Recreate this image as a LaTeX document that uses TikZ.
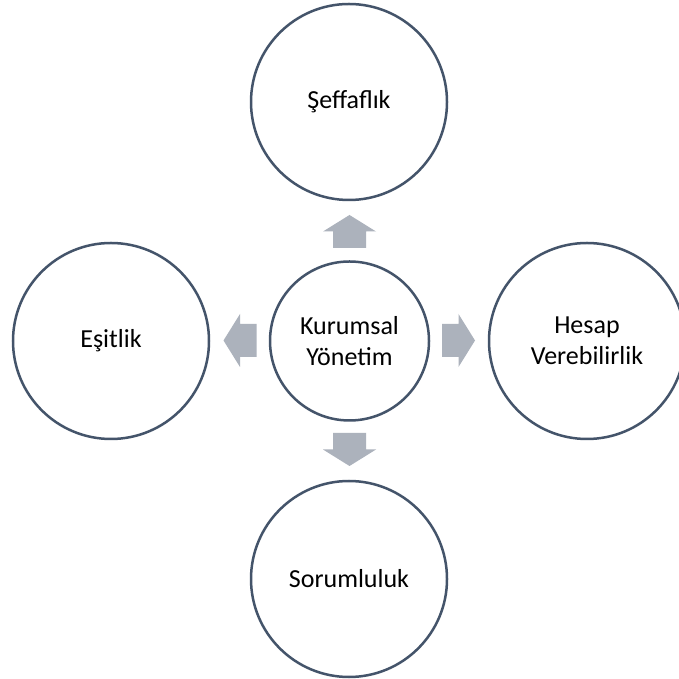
\documentclass[tikz,border=0pt]{standalone}
\usepackage{fontspec}
\setmainfont{Carlito}
\begin{document}
\begin{tikzpicture}[x=1pt,y=1pt,
  circ/.style={circle,draw=ringcol,line width=2.5pt,fill=white,inner sep=0pt,align=center,
    font=\fontsize{26}{31}\selectfont},
  blockarrow/.style={fill=arrowcol}]
\definecolor{ringcol}{HTML}{44546A}
\definecolor{arrowcol}{RGB}{172,178,188}
\useasboundingbox[fill=white] (0,0) rectangle (678,679);
\node[circ,minimum size=159pt] (c) at (349.5,338) {Kurumsal\\Yönetim};
\node[circ,minimum size=196pt] (t) at (349,577) {Şeffaflık};
\node[circ,minimum size=196pt] (l) at (111,338) {Eşitlik};
\node[circ,minimum size=196pt] (r) at (587,338) {Hesap\\Verebilirlik};
\node[circ,minimum size=196pt] (b) at (349,100) {Sorumluluk};
\foreach \px/\py/\ang in {349.5/447.5/0, 240/338.5/90, 458.5/338.5/-90, 349.5/229.5/180}{
  \fill[blockarrow,shift={(\px,\py)},rotate=\ang]
    (-16.5,-16.5) -- (16.5,-16.5) -- (16.5,0) -- (26.5,0) -- (0,16.5) -- (-26.5,0) -- (-16.5,0) -- cycle;
}
\end{tikzpicture}
\end{document}
